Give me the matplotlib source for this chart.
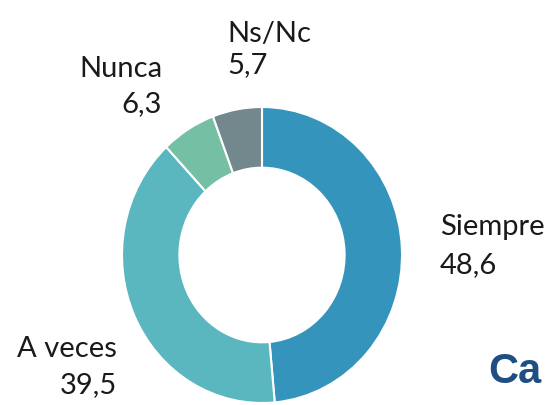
import matplotlib
matplotlib.use('Agg')
from matplotlib import pyplot as plt

categorias = ['Siempre', 'A veces', 'Nunca', 'Ns/Nc']
valores = [48.6, 39.5, 6.3, 5.7]
colores = ['#3594BB', '#5AB7C0', '#75BFA5', '#72888C']

plt.rcParams['font.family'] = ['Lato', 'DejaVu Sans']

W, H = 548, 405
fig = plt.figure(figsize=(W / 100, H / 100), dpi=100)

# donut box in pixels: x 122-402, y 107-403
ax = fig.add_axes([122 / W, (H - 403) / H, 280 / W, 296 / H])
ax.pie(valores, colors=colores, startangle=90, counterclock=False,
       radius=1, wedgeprops=dict(width=0.41, edgecolor='white', linewidth=1.5))
ax.set_xlim(-1, 1)
ax.set_ylim(-1, 1)
ax.set_aspect('auto')
ax.axis('off')

def etiqueta(x, y, texto, ha):
    fig.text(x / W, 1 - y / H, texto, ha=ha, va='baseline', fontsize=21,
             color='#1a1a1a')

fmt = lambda v: f'{v:.1f}'.replace('.', ',')

etiqueta(440, 235, categorias[0], 'left')
etiqueta(440, 273, fmt(valores[0]), 'left')
etiqueta(117, 357, categorias[1], 'right')
etiqueta(117, 393, fmt(valores[1]), 'right')
etiqueta(162, 77, categorias[2], 'right')
etiqueta(162, 112, fmt(valores[2]), 'right')
etiqueta(227, 42, categorias[3], 'left')
etiqueta(227, 73, fmt(valores[3]), 'left')

fig.text(488 / W, 1 - 383 / H, 'Ca', ha='left', va='baseline', fontsize=30,
         fontweight='bold', color='#1F4E82', family=['Liberation Sans', 'DejaVu Sans'])

fig.savefig('out.png', dpi=100)
